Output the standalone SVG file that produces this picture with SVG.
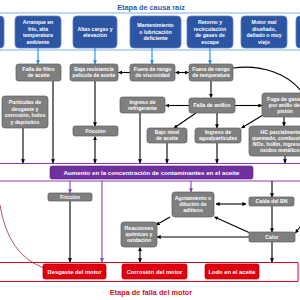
<svg xmlns="http://www.w3.org/2000/svg" width="300" height="300" viewBox="0 0 300 300">
<defs>
<style>
text{font-family:"Liberation Sans",Arial,sans-serif;text-anchor:middle;}
.bt{fill:#fff;font-size:5.2px;font-weight:bold;}
.blue{fill:#2C55A3;stroke:#5A7EC2;stroke-width:0.8;}
.gray{fill:#7F7F7F;stroke:#5E5E5E;stroke-width:0.7;}
.red{fill:#E0000F;stroke:#A80000;stroke-width:0.7;}
.k{stroke:#000;stroke-width:1.1;fill:none;}
.bl{stroke:#1E8FE0;stroke-width:1.1;fill:none;}
.pu{stroke:#8B3DB8;stroke-width:1.1;fill:none;}
</style>
<marker id="ak" viewBox="0 0 6 6" refX="5.5" refY="3" markerWidth="4" markerHeight="4" markerUnits="userSpaceOnUse" orient="auto-start-reverse"><path d="M0,0L6,3L0,6z" fill="#000"/></marker>
<marker id="ab" viewBox="0 0 6 6" refX="5.5" refY="3" markerWidth="4" markerHeight="4" markerUnits="userSpaceOnUse" orient="auto"><path d="M0,0L6,3L0,6z" fill="#1E8FE0"/></marker>
<marker id="ap" viewBox="0 0 6 6" refX="5.5" refY="3" markerWidth="4" markerHeight="4" markerUnits="userSpaceOnUse" orient="auto"><path d="M0,0L6,3L0,6z" fill="#8B3DB8"/></marker>
</defs>
<rect width="300" height="300" fill="#fff"/>

<!-- frames -->
<text x="151" y="10" style="font-size:7.3px;font-weight:bold;fill:#1F5FAF">Etapa de causa raíz</text>
<line x1="0" y1="13" x2="300" y2="13" stroke="#7FB2E0" stroke-width="1"/>
<line x1="0" y1="50" x2="300" y2="50" stroke="#7FB2E0" stroke-width="1"/>
<line x1="0" y1="163.5" x2="300" y2="163.5" stroke="#8B3DB8" stroke-width="1.2"/>
<line x1="0" y1="181" x2="300" y2="181" stroke="#8B3DB8" stroke-width="1.2"/>
<path d="M0,262.5H298V281.5H0" fill="none" stroke="#E3001B" stroke-width="1"/>
<text x="151" y="295" style="font-size:7.3px;font-weight:bold;fill:#D0101A">Etapa de falla del motor</text>

<!-- connectors -->
<g id="connectors">
<line class="bl" x1="38" y1="48" x2="38" y2="64" marker-end="url(#ab)"/>
<line class="bl" x1="95" y1="48" x2="95" y2="64" marker-end="url(#ab)"/>
<line class="bl" x1="152" y1="48" x2="152" y2="64" marker-end="url(#ab)"/>
<line class="bl" x1="210" y1="48" x2="210" y2="64" marker-end="url(#ab)"/>
<line class="k" x1="130" y1="72.5" x2="118.5" y2="72.5" marker-end="url(#ak)"/>
<line class="k" x1="175.5" y1="72.5" x2="188.5" y2="72.5" marker-start="url(#ak)" marker-end="url(#ak)"/>
<line class="k" x1="211" y1="81" x2="211" y2="97.5" marker-end="url(#ak)"/>
<path class="k" d="M233,68 C262,64 288,74 302,92"/>
<line class="k" x1="53" y1="81" x2="53" y2="163" marker-end="url(#ak)"/>
<line class="k" x1="23" y1="128" x2="23" y2="163" marker-end="url(#ak)"/>
<line class="k" x1="95" y1="81" x2="95" y2="126" marker-end="url(#ak)"/>
<line class="k" x1="95" y1="136.5" x2="95" y2="163" marker-start="url(#ak)" marker-end="url(#ak)"/>
<line class="k" x1="140" y1="113" x2="140" y2="163" marker-end="url(#ak)"/>
<line class="k" x1="189" y1="105.5" x2="165.5" y2="105.5" marker-end="url(#ak)"/>
<line class="k" x1="235" y1="105.5" x2="262" y2="105.5" marker-end="url(#ak)"/>
<line class="k" x1="196" y1="113" x2="174" y2="128" marker-end="url(#ak)"/>
<line class="k" x1="217" y1="113" x2="217" y2="128" marker-end="url(#ak)"/>
<line class="k" x1="263" y1="115" x2="241.5" y2="128" marker-end="url(#ak)"/>
<line class="k" x1="284" y1="117" x2="284" y2="126" marker-end="url(#ak)"/>
<line class="k" x1="167" y1="143" x2="167" y2="163" marker-end="url(#ak)"/>
<line class="k" x1="217" y1="143" x2="217" y2="163" marker-end="url(#ak)"/>
<line class="k" x1="285" y1="156" x2="285" y2="163" marker-end="url(#ak)"/>
<line class="pu" x1="70" y1="181" x2="70" y2="193" marker-end="url(#ap)"/>
<line class="k" x1="70" y1="201" x2="70" y2="262" marker-end="url(#ak)"/>
<line class="pu" x1="102" y1="181" x2="102" y2="262" marker-end="url(#ap)"/>
<line class="pu" x1="191" y1="181" x2="191" y2="192" marker-end="url(#ap)"/>
<line class="k" x1="272" y1="181" x2="272" y2="197" marker-end="url(#ak)"/>
<line class="k" x1="216" y1="204" x2="246" y2="204" marker-start="url(#ak)" marker-end="url(#ak)"/>
<line class="k" x1="272" y1="206" x2="272" y2="232" marker-end="url(#ak)"/>
<line class="k" x1="249" y1="232.5" x2="214.5" y2="217" marker-end="url(#ak)"/>
<line class="k" x1="170" y1="217" x2="156" y2="225" marker-end="url(#ak)"/>
<line class="k" x1="249" y1="237" x2="157" y2="237" marker-end="url(#ak)"/>
<line class="k" x1="140" y1="247.5" x2="140" y2="262" marker-start="url(#ak)" marker-end="url(#ak)"/>
<line class="k" x1="272" y1="242" x2="272" y2="262" marker-end="url(#ak)"/>
<path class="k" d="M303,224 Q299,228 295.5,233" marker-end="url(#ak)"/>
<path d="M0,205 Q8,255 44,268" fill="none" stroke="#A0283C" stroke-width="0.8"/>
</g>

<!-- root cause nodes -->
<g id="rc0"><rect class="blue" x="-10" y="16" width="14" height="32" rx="4"/></g>
<g id="rc1"><rect class="blue" x="15" y="16" width="46" height="32" rx="4"/>
<text class="bt" x="38" y="24.1">Arranque en<tspan x="38" dy="6.5">frío, alta</tspan><tspan x="38" dy="6.5">temperatura</tspan><tspan x="38" dy="6.5">ambiente</tspan></text></g>
<g id="rc2"><rect class="blue" x="73" y="16" width="44" height="32" rx="4"/>
<text class="bt" x="95" y="30.6">Altas cargas y<tspan x="95" dy="6.5">elevación</tspan></text></g>
<g id="rc3"><rect class="blue" x="130" y="16" width="51" height="32" rx="4"/>
<text class="bt" x="155.5" y="27.3">Mantenimiento<tspan x="155.5" dy="6.5">o lubricación</tspan><tspan x="155.5" dy="6.5">deficiente</tspan></text></g>
<g id="rc4"><rect class="blue" x="187" y="16" width="46" height="32" rx="4"/>
<text class="bt" x="210" y="24.1">Retorno y<tspan x="210" dy="6.5">recirculación</tspan><tspan x="210" dy="6.5">de gases de</tspan><tspan x="210" dy="6.5">escape</tspan></text></g>
<g id="rc5"><rect class="blue" x="241" y="16" width="46" height="32" rx="4"/>
<text class="bt" x="264" y="24.1">Motor mal<tspan x="264" dy="6.5">diseñado,</tspan><tspan x="264" dy="6.5">dañado o muy</tspan><tspan x="264" dy="6.5">viejo</tspan></text></g>
<g id="rc6"><rect class="blue" x="296" y="16" width="14" height="32" rx="4"/></g>

<!-- intermediate nodes -->
<g id="filtro"><rect class="gray" x="16" y="64" width="45" height="17" rx="2.5"/>
<text class="bt" x="38.5" y="71.3">Falla de filtro<tspan x="38.5" dy="6">de aceite</tspan></text></g>
<g id="pelicula"><rect class="gray" x="70" y="64" width="48" height="17" rx="2.5"/>
<text class="bt" x="94" y="71.3">Baja resistencia<tspan x="94" dy="6">película de aceite</tspan></text></g>
<g id="viscosidad"><rect class="gray" x="130" y="64" width="45" height="17" rx="2.5"/>
<text class="bt" x="152.5" y="71.3">Fuera de rango<tspan x="152.5" dy="6">de viscosidad</tspan></text></g>
<g id="temperatura"><rect class="gray" x="189" y="64" width="44" height="17" rx="2.5"/>
<text class="bt" x="211" y="71.3">Fuera de rango<tspan x="211" dy="6">de temperatura</tspan></text></g>
<g id="particulas"><rect class="gray" x="2" y="96" width="46" height="32" rx="3"/>
<text class="bt" x="25" y="104.1">Partículas de<tspan x="25" dy="6.5">desgaste y</tspan><tspan x="25" dy="6.5">corrosión, lodos</tspan><tspan x="25" dy="6.5">y depósitos</tspan></text></g>
<g id="refrigerante"><rect class="gray" x="120" y="97" width="45" height="16" rx="2.5"/>
<text class="bt" x="142.5" y="103.8">Ingreso de<tspan x="142.5" dy="6">refrigerante</tspan></text></g>
<g id="anillos"><rect class="gray" x="189" y="98" width="46" height="15" rx="2.5"/>
<text class="bt" x="212" y="107.3">Falla de anillos</text></g>
<g id="fuga"><rect class="gray" x="262" y="93" width="46" height="24" rx="3"/>
<text class="bt" x="285" y="100.8">Fuga de gases<tspan x="285" dy="6">por anillo del</tspan><tspan x="285" dy="6">pistón</tspan></text></g>
<g id="friccion1"><rect class="gray" x="73" y="126" width="45" height="10" rx="2"/>
<text class="bt" x="95.5" y="132.8">Fricción</text></g>
<g id="nivel"><rect class="gray" x="147" y="128" width="40" height="15" rx="2.5"/>
<text class="bt" x="167" y="134.3">Bajo nivel<tspan x="167" dy="6">de aceite</tspan></text></g>
<g id="agua"><rect class="gray" x="195" y="128" width="46" height="15" rx="2.5"/>
<text class="bt" x="218" y="134.3">Ingreso de<tspan x="218" dy="6">agua/partículas</tspan></text></g>
<g id="hc"><rect class="gray" x="249" y="126" width="62" height="30" rx="3"/>
<text class="bt" x="281" y="133.8">HC parcialmente<tspan x="281" dy="6">quemado, combustible,</tspan><tspan x="281" dy="6">NOx, hollín, ingreso de</tspan><tspan x="281" dy="6">óxidos metálicos</tspan></text></g>

<g id="aumento"><rect x="50" y="166" width="203" height="13" rx="2" fill="#7030A0" stroke="#5A1E86" stroke-width="0.6"/>
<text x="151.5" y="174.8" style="fill:#fff;font-size:6.2px;font-weight:bold">Aumento en la concentración de contaminantes en el aceite</text></g>

<g id="friccion2"><rect class="gray" x="48" y="193" width="44" height="8" rx="1.5"/>
<text class="bt" x="70" y="198.9" style="font-size:5px">Fricción</text></g>
<g id="agotamiento"><rect class="gray" x="172" y="192" width="42" height="25" rx="3"/>
<text class="bt" x="193" y="200.3">Agotamiento o<tspan x="193" dy="6">dilución de</tspan><tspan x="193" dy="6">aditivos</tspan></text></g>
<g id="bn"><rect class="gray" x="249" y="197" width="45" height="9" rx="1.5"/>
<text class="bt" x="271.5" y="203.3">Caída del BN</text></g>
<g id="reacciones"><rect class="gray" x="121" y="222" width="36" height="25" rx="3"/>
<text class="bt" x="139" y="230.3">Reacciones<tspan x="139" dy="6">químicas y</tspan><tspan x="139" dy="6">oxidación</tspan></text></g>
<g id="calor"><rect class="gray" x="249" y="232" width="46" height="10" rx="1.5"/>
<text class="bt" x="272" y="238.8">Calor</text></g>

<!-- failure nodes -->
<g id="desgaste"><rect class="red" x="43" y="264" width="63" height="15" rx="2"/>
<text class="bt" x="74.5" y="273.6" style="font-size:5.8px">Desgaste del motor</text></g>
<g id="corrosion"><rect class="red" x="122" y="264" width="65" height="15" rx="2"/>
<text class="bt" x="154.5" y="273.6" style="font-size:5.8px">Corrosión del motor</text></g>
<g id="lodo"><rect class="red" x="205" y="264" width="54" height="15" rx="2"/>
<text class="bt" x="232" y="273.6" style="font-size:5.8px">Lodo en el aceite</text></g>
</svg>
